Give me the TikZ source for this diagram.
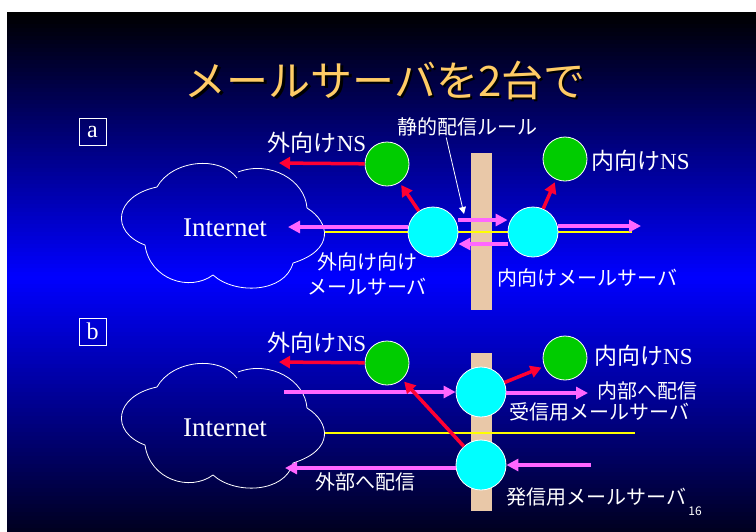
\documentclass[tikz,border=0pt]{standalone}
\usepackage{fontspec}
\setmainfont{Liberation Serif}
\newfontfamily\jp{Noto Sans CJK JP}
\usetikzlibrary{arrows.meta}
\definecolor{titlecol}{RGB}{255,204,102}
\definecolor{redarr}{RGB}{255,0,51}
\definecolor{pinkarr}{RGB}{255,102,255}
\definecolor{fwcol}{RGB}{233,200,168}
\definecolor{nsgreen}{RGB}{0,204,0}
\definecolor{srvcyan}{RGB}{0,255,255}
\definecolor{wirecol}{RGB}{255,255,0}
\definecolor{bgblue}{RGB}{0,0,255}
\tikzset{
  redarrow/.style={draw=redarr, line width=3.5pt, -{Triangle[length=11pt,width=12pt]}, shorten >=3pt},
  pinkarrow/.style={draw=pinkarr, line width=3.5pt, -{Triangle[length=12pt,width=12pt]}},
  server/.style={circle, fill=srvcyan, draw=white, line width=0.8pt, minimum size=50pt, inner sep=0pt},
  nsnode/.style={circle, fill=nsgreen, draw=white, line width=0.8pt, minimum size=44pt, inner sep=0pt},
  lbl/.style={text=white, font=\jp\fontsize{20}{25}\selectfont, inner sep=0pt},
  nslbl/.style={text=white, font=\jp\fontsize{23}{26}\selectfont, inner sep=0pt},
  netlbl/.style={text=white, font=\rmfamily\fontsize{27}{30}\selectfont, inner sep=0pt},
  boxlbl/.style={draw=white, line width=0.8pt, text=white, font=\rmfamily\fontsize{24}{24}\selectfont, minimum size=27pt, inner sep=0pt},
  fwbar/.style={fill=fwcol, draw=none},
  wireline/.style={draw=wirecol, line width=2.2pt},
  cloudline/.style={draw=white, line width=0.8pt},
  rulearrow/.style={draw=white, line width=0.8pt, -{Triangle[length=7pt,width=7pt]}},
  titlestyle/.style={font=\jp\fontsize{42}{48}\selectfont, inner sep=0pt}
}
\begin{document}
\begin{tikzpicture}[x=1pt,y=-1pt]
\useasboundingbox (0,0) rectangle (756,531);
\fill[white] (0,0) rectangle (756,531);
% vertical gradient: black -> blue -> near black
\foreach \i in {0,...,129}{
  \pgfmathsetmacro\yy{12+\i*4}
  \pgfmathsetmacro\p{\yy<275 ? (\yy-12)/263*100 : 100-(\yy-275)/256*88}
  \fill[bgblue!\p!black] (7,\yy) rectangle (756,\yy+4.6);
}

% title
\node[titlestyle, text=black] (titleshadow) at (387.5,82.5) {メールサーバを2台で};
\node[titlestyle, text=titlecol] (title) at (385,80) {メールサーバを2台で};

% clouds
\foreach \dy in {0,200}{
\begin{scope}[shift={(224,226+\dy)}]
\draw[cloudline] (-67,-39) .. controls (-52,-66) and (-4,-71) .. (13,-48);
\draw[cloudline] (14,-54) .. controls (46,-66) and (81,-46) .. (83,-18);
\draw[cloudline] (83,-18) .. controls (106,-4) and (111,24) .. (69,37);
\draw[cloudline] (69,37) .. controls (61,67) and (11,69) .. (-11,49);
\draw[cloudline] (-11,49) .. controls (-34,66) and (-74,54) .. (-79,19);
\draw[cloudline] (-79,19) .. controls (-114,6) and (-110,-30) .. (-67,-39);
\end{scope}
}
\node[netlbl] (netA) at (225,228) {Internet};
\node[netlbl] (netB) at (225,428) {Internet};

% section boxes
\node[boxlbl] (boxA) at (92.5,131.5) {a};
\node[boxlbl] (boxB) at (92.5,331.5) {b};

% ===== part a =====
\fill[fwbar] (471,153) rectangle (492,310);
\coordinate (yA1) at (325,232);
\coordinate (yA2) at (632,232);
\draw[wireline] (yA1) -- (yA2);

\node[nsnode] (nsOutA) at (387,164) {};
\node[nsnode] (nsInA) at (565,159) {};
\node[server] (srvOutA) at (433,232) {};
\node[server] (srvInA) at (533,232) {};

\coordinate (extNsA) at (276,163);
\coordinate (netInA) at (288,227);
\coordinate (rightA) at (641,226);

\draw[redarrow] (nsOutA) -- (extNsA);
\draw[redarrow] (srvOutA) -- (nsOutA);
\draw[redarrow] (srvInA) -- (nsInA);

\draw[pinkarrow] ([yshift=12pt]srvOutA.east) -- ([yshift=12pt]srvInA.west);
\draw[pinkarrow] ([yshift=-12pt]srvInA.west) -- ([yshift=-12pt]srvOutA.east);
\draw[pinkarrow] ([yshift=5pt]srvOutA.west) -- (netInA);
\draw[pinkarrow] ([yshift=6pt]srvInA.east) -- (rightA);

\node[lbl, anchor=west] (ruleA) at (397,127) {静的配信ルール};
\coordinate (ruleTip) at (464,214);
\draw[rulearrow] ([xshift=-21pt,yshift=-1pt]ruleA.south) -- (ruleTip);

\node[nslbl] (lblNsOutA) at (317,143) {外向け{\rmfamily NS}};
\node[nslbl, anchor=west] (lblNsInA) at (591,161) {内向け{\rmfamily NS}};
\node[lbl, align=center] (lblSrvOutA) at (367,274) {外向け向け\\メールサーバ};
\node[lbl, anchor=west] (lblSrvInA) at (497,278) {内向けメールサーバ};

% ===== part b =====
\fill[fwbar] (471,353) rectangle (492,511);
\coordinate (yB1) at (325,433);
\coordinate (yB2) at (635,433);
\draw[wireline] (yB1) -- (yB2);

\node[nsnode] (nsOutB) at (387,363) {};
\node[nsnode] (nsInB) at (565,358) {};
\node[server] (srvRecv) at (481,392) {};
\node[server] (srvSend) at (481,465) {};

\coordinate (extNsB) at (276,362);
\coordinate (recvStart) at (284,392);
\coordinate (recvOut) at (588,393);
\coordinate (sendOut) at (285,468);
\coordinate (sendIn) at (591,465);

\draw[pinkarrow] (recvStart) -- (srvRecv);
\draw[pinkarrow] ([yshift=-1pt]srvRecv.east) -- (recvOut);
\draw[pinkarrow] ([yshift=-3pt]srvSend.west) -- (sendOut);
\draw[pinkarrow] (sendIn) -- (srvSend);

\draw[redarrow] (nsOutB) -- (extNsB);
\draw[redarrow] (srvRecv) -- (nsInB);
\draw[redarrow] (srvSend) -- (nsOutB);

\node[nslbl] (lblNsOutB) at (317,343) {外向け{\rmfamily NS}};
\node[nslbl, anchor=west] (lblNsInB) at (594,356) {内向け{\rmfamily NS}};
\node[lbl, anchor=west] (lblRecvOut) at (597,391) {内部へ配信};
\node[lbl, anchor=west] (lblRecv) at (509,412) {受信用メールサーバ};
\node[lbl] (lblSendOut) at (365,482) {外部へ配信};
\node[lbl, anchor=west] (lblSend) at (506,497) {発信用メールサーバ};

\node[text=white, font=\jp\fontsize{12}{14}\selectfont, inner sep=0pt] (pagenum) at (695,511) {16};
\end{tikzpicture}
\end{document}
